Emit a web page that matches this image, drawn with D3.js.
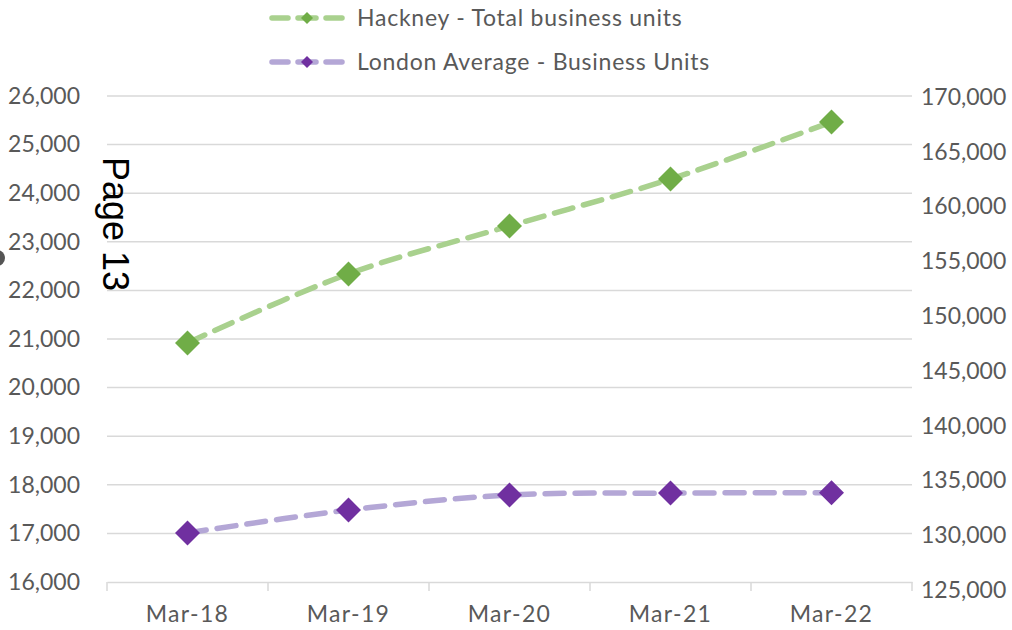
<!DOCTYPE html>
<html><head><meta charset="utf-8">
<script src="https://cdn.jsdelivr.net/npm/d3@7"></script>
<style>
html,body{margin:0;padding:0;background:#fff;}
svg{display:block;}
text{font-family:Lato,"Open Sans",sans-serif;fill:#595959;}
</style></head>
<body>
<svg id="chart" width="1012" height="630"></svg>
<script>
const categories = ["Mar-18","Mar-19","Mar-20","Mar-21","Mar-22"];
const hackneyValues = [20920, 22340, 23325, 24290, 25465];
const londonValues = [17010, 17480, 17790, 17830, 17835];
const leftTicks = [16000,17000,18000,19000,20000,21000,22000,23000,24000,25000,26000];
const rightTicks = [125000,130000,135000,140000,145000,150000,155000,160000,165000,170000];
const seriesNames = ["Hackney - Total business units","London Average - Business Units"];

const svg = d3.select("#chart");
const plotL = 107, plotR = 912, plotT = 96, plotB = 582;

const x = d3.scaleBand().domain(categories).range([plotL, plotR]);
const y = d3.scaleLinear().domain([16000, 26000]).range([plotB, plotT]);
const yR = d3.scaleLinear().domain([125000, 170000]).range([590, 97]);
const fmt = d3.format(",");

// gridlines
svg.append("g").selectAll("line").data(leftTicks.slice(1)).join("line")
  .attr("x1", plotL).attr("x2", plotR)
  .attr("y1", d => y(d)).attr("y2", d => y(d))
  .attr("stroke", "#d9d9d9").attr("stroke-width", 1.5);

// x axis
const xAxis = svg.append("g").attr("transform", `translate(0,${plotB})`)
  .call(d3.axisBottom(x).tickSize(0).tickPadding(24));
xAxis.select(".domain").attr("stroke", "#d9d9d9").attr("stroke-width", 1.5);
xAxis.selectAll("text").attr("font-size", 23).style("font-family", "Lato")
  .style("letter-spacing", "1.3px").attr("fill", "#595959");
// category boundary ticks
const bounds = categories.map(c => x(c)).concat([plotR]);
svg.append("g").selectAll("line").data(bounds).join("line")
  .attr("x1", d => d).attr("x2", d => d)
  .attr("y1", plotB).attr("y2", plotB + 9)
  .attr("stroke", "#d9d9d9").attr("stroke-width", 1.5);

// left axis
const yAxis = svg.append("g").attr("transform", `translate(80,0)`)
  .call(d3.axisLeft(y).tickValues(leftTicks).tickFormat(fmt).tickSize(0).tickPadding(0));
yAxis.select(".domain").remove();
yAxis.selectAll("text").attr("font-size", 23).style("font-family", "Lato").attr("fill", "#595959");

// right axis
const yAxisR = svg.append("g").attr("transform", `translate(921,0)`)
  .call(d3.axisRight(yR).tickValues(rightTicks).tickFormat(fmt).tickSize(0).tickPadding(0));
yAxisR.select(".domain").remove();
yAxisR.selectAll("text").attr("font-size", 23).style("font-family", "Lato").attr("fill", "#595959");

const cx = d => x(d) + x.bandwidth() / 2;
const line = d3.line().curve(d3.curveCatmullRom.alpha(0.5));
const diamond = (s) => `M0,${-s}L${s},0L0,${s}L${-s},0Z`;

const series = [
  {name: seriesNames[0], values: hackneyValues, line: "#a9d18e", marker: "#70ad47"},
  {name: seriesNames[1], values: londonValues, line: "#b4a7d6", marker: "#7030a0"}
];

series.forEach(s => {
  const pts = categories.map((c, i) => [cx(c), y(s.values[i])]);
  svg.append("path").attr("d", line(pts)).attr("fill", "none")
    .attr("stroke", s.line).attr("stroke-width", 5.5)
    .attr("stroke-dasharray", "19,11").attr("stroke-linecap", "round");
  svg.append("g").selectAll("path").data(pts).join("path")
    .attr("transform", d => `translate(${d[0]},${d[1]})`)
    .attr("d", diamond(12.5)).attr("fill", s.marker);
});

// legend
series.forEach((s, i) => {
  const ly = 18 + i * 44;
  const g = svg.append("g");
  [[272,288],[298,316],[326,342]].forEach(([a,b]) => {
    g.append("line").attr("x1", a).attr("x2", b).attr("y1", ly).attr("y2", ly)
      .attr("stroke", s.line).attr("stroke-width", 5.5).attr("stroke-linecap", "round");
  });
  g.append("path").attr("transform", `translate(307,${ly})`).attr("d", diamond(6)).attr("fill", s.marker);
  g.append("text").attr("x", 357).attr("y", ly).attr("dy", "0.35em")
    .attr("font-size", 23).style("letter-spacing", "0.75px").text(s.name);
});

// page stamp
svg.append("text").attr("transform", "translate(103,224) rotate(90)")
  .attr("text-anchor", "middle").attr("font-size", 36)
  .style("font-family", "Liberation Sans, Arial, sans-serif").style("fill", "#000")
  .text("Page 13");
svg.append("circle").attr("cx", -3).attr("cy", 258).attr("r", 8).attr("fill", "#555");
</script>
</body></html>
